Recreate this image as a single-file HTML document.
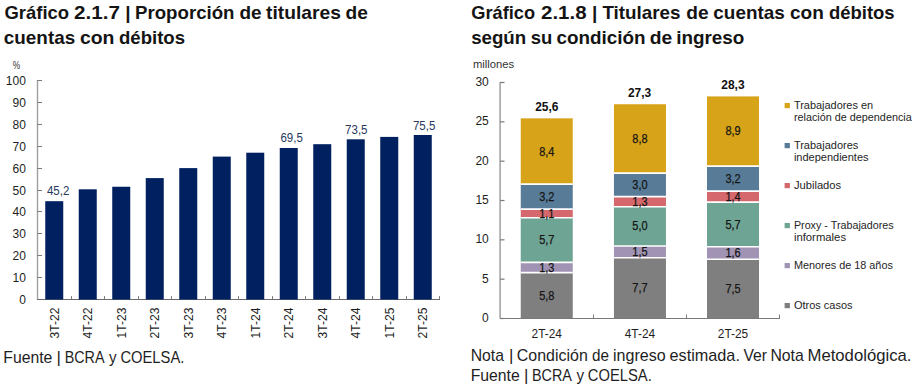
<!DOCTYPE html>
<html><head><meta charset="utf-8"><style>
html,body{margin:0;padding:0;background:#fff;width:918px;height:387px;overflow:hidden}
svg{display:block;font-family:"Liberation Sans", sans-serif}
</style></head><body>
<svg width="918" height="387" viewBox="0 0 918 387">
<text x="4.48" y="18.60" font-size="19" text-anchor="start" font-weight="bold" fill="#141414" textLength="64.63" lengthAdjust="spacingAndGlyphs" >Gráfico</text>
<text x="74.12" y="18.60" font-size="19" text-anchor="start" font-weight="bold" fill="#141414" textLength="45.86" lengthAdjust="spacingAndGlyphs" >2.1.7</text>
<text x="125.22" y="18.60" font-size="19" text-anchor="start" font-weight="bold" fill="#141414" textLength="5.33" lengthAdjust="spacingAndGlyphs" >|</text>
<text x="135.02" y="18.60" font-size="19" text-anchor="start" font-weight="bold" fill="#141414" textLength="99.48" lengthAdjust="spacingAndGlyphs" >Proporción</text>
<text x="239.56" y="18.60" font-size="19" text-anchor="start" font-weight="bold" fill="#141414" textLength="22.13" lengthAdjust="spacingAndGlyphs" >de</text>
<text x="265.98" y="18.60" font-size="19" text-anchor="start" font-weight="bold" fill="#141414" textLength="74.89" lengthAdjust="spacingAndGlyphs" >titulares</text>
<text x="345.45" y="18.60" font-size="19" text-anchor="start" font-weight="bold" fill="#141414" textLength="22.35" lengthAdjust="spacingAndGlyphs" >de</text>
<text x="3.87" y="44.00" font-size="19" text-anchor="start" font-weight="bold" fill="#141414" textLength="71.28" lengthAdjust="spacingAndGlyphs" >cuentas</text>
<text x="79.94" y="44.00" font-size="19" text-anchor="start" font-weight="bold" fill="#141414" textLength="34.55" lengthAdjust="spacingAndGlyphs" >con</text>
<text x="118.97" y="44.00" font-size="19" text-anchor="start" font-weight="bold" fill="#141414" textLength="66.03" lengthAdjust="spacingAndGlyphs" >débitos</text>
<text x="471.29" y="18.60" font-size="19" text-anchor="start" font-weight="bold" fill="#141414" textLength="63.81" lengthAdjust="spacingAndGlyphs" >Gráfico</text>
<text x="541.03" y="18.60" font-size="19" text-anchor="start" font-weight="bold" fill="#141414" textLength="45.54" lengthAdjust="spacingAndGlyphs" >2.1.8</text>
<text x="592.02" y="18.60" font-size="19" text-anchor="start" font-weight="bold" fill="#141414" textLength="5.33" lengthAdjust="spacingAndGlyphs" >|</text>
<text x="602.40" y="18.60" font-size="19" text-anchor="start" font-weight="bold" fill="#141414" textLength="78.09" lengthAdjust="spacingAndGlyphs" >Titulares</text>
<text x="686.35" y="18.60" font-size="19" text-anchor="start" font-weight="bold" fill="#141414" textLength="22.35" lengthAdjust="spacingAndGlyphs" >de</text>
<text x="713.37" y="18.60" font-size="19" text-anchor="start" font-weight="bold" fill="#141414" textLength="71.38" lengthAdjust="spacingAndGlyphs" >cuentas</text>
<text x="789.96" y="18.60" font-size="19" text-anchor="start" font-weight="bold" fill="#141414" textLength="33.82" lengthAdjust="spacingAndGlyphs" >con</text>
<text x="828.98" y="18.60" font-size="19" text-anchor="start" font-weight="bold" fill="#141414" textLength="65.62" lengthAdjust="spacingAndGlyphs" >débitos</text>
<text x="471.14" y="44.00" font-size="19" text-anchor="start" font-weight="bold" fill="#141414" textLength="55.09" lengthAdjust="spacingAndGlyphs" >según</text>
<text x="530.75" y="44.00" font-size="19" text-anchor="start" font-weight="bold" fill="#141414" textLength="21.59" lengthAdjust="spacingAndGlyphs" >su</text>
<text x="556.57" y="44.00" font-size="19" text-anchor="start" font-weight="bold" fill="#141414" textLength="89.0" lengthAdjust="spacingAndGlyphs" >condición</text>
<text x="649.75" y="44.00" font-size="19" text-anchor="start" font-weight="bold" fill="#141414" textLength="22.46" lengthAdjust="spacingAndGlyphs" >de</text>
<text x="676.19" y="44.00" font-size="19" text-anchor="start" font-weight="bold" fill="#141414" textLength="68.11" lengthAdjust="spacingAndGlyphs" >ingreso</text>
<line x1="37.50" y1="80.00" x2="37.50" y2="300.00" stroke="#a0a0a0" stroke-width="1.4"/>
<line x1="37.50" y1="299.50" x2="42.00" y2="299.50" stroke="#7a7a7a" stroke-width="1"/>
<text x="25.90" y="303.50" font-size="12" text-anchor="end" font-weight="normal" fill="#1e1e1e" >0</text>
<line x1="37.50" y1="277.50" x2="42.00" y2="277.50" stroke="#7a7a7a" stroke-width="1"/>
<text x="25.90" y="281.50" font-size="12" text-anchor="end" font-weight="normal" fill="#1e1e1e" >10</text>
<line x1="37.50" y1="255.50" x2="42.00" y2="255.50" stroke="#7a7a7a" stroke-width="1"/>
<text x="25.90" y="259.50" font-size="12" text-anchor="end" font-weight="normal" fill="#1e1e1e" >20</text>
<line x1="37.50" y1="233.50" x2="42.00" y2="233.50" stroke="#7a7a7a" stroke-width="1"/>
<text x="25.90" y="237.50" font-size="12" text-anchor="end" font-weight="normal" fill="#1e1e1e" >30</text>
<line x1="37.50" y1="211.50" x2="42.00" y2="211.50" stroke="#7a7a7a" stroke-width="1"/>
<text x="25.90" y="215.50" font-size="12" text-anchor="end" font-weight="normal" fill="#1e1e1e" >40</text>
<line x1="37.50" y1="190.50" x2="42.00" y2="190.50" stroke="#7a7a7a" stroke-width="1"/>
<text x="25.90" y="194.50" font-size="12" text-anchor="end" font-weight="normal" fill="#1e1e1e" >50</text>
<line x1="37.50" y1="168.50" x2="42.00" y2="168.50" stroke="#7a7a7a" stroke-width="1"/>
<text x="25.90" y="172.50" font-size="12" text-anchor="end" font-weight="normal" fill="#1e1e1e" >60</text>
<line x1="37.50" y1="146.50" x2="42.00" y2="146.50" stroke="#7a7a7a" stroke-width="1"/>
<text x="25.90" y="150.50" font-size="12" text-anchor="end" font-weight="normal" fill="#1e1e1e" >70</text>
<line x1="37.50" y1="124.50" x2="42.00" y2="124.50" stroke="#7a7a7a" stroke-width="1"/>
<text x="25.90" y="128.50" font-size="12" text-anchor="end" font-weight="normal" fill="#1e1e1e" >80</text>
<line x1="37.50" y1="102.50" x2="42.00" y2="102.50" stroke="#7a7a7a" stroke-width="1"/>
<text x="25.90" y="106.50" font-size="12" text-anchor="end" font-weight="normal" fill="#1e1e1e" >90</text>
<line x1="37.50" y1="80.50" x2="42.00" y2="80.50" stroke="#7a7a7a" stroke-width="1"/>
<text x="25.90" y="84.50" font-size="12" text-anchor="end" font-weight="normal" fill="#1e1e1e" >100</text>
<text x="12.80" y="69.00" font-size="10.5" text-anchor="start" font-weight="normal" fill="#333" textLength="7.4" lengthAdjust="spacingAndGlyphs" >%</text>
<line x1="37.50" y1="299.50" x2="440.00" y2="299.50" stroke="#6a6a6a" stroke-width="1"/>
<line x1="71.50" y1="296.10" x2="71.50" y2="299.50" stroke="#7a7a7a" stroke-width="1"/>
<line x1="104.50" y1="296.10" x2="104.50" y2="299.50" stroke="#7a7a7a" stroke-width="1"/>
<line x1="138.50" y1="296.10" x2="138.50" y2="299.50" stroke="#7a7a7a" stroke-width="1"/>
<line x1="171.50" y1="296.10" x2="171.50" y2="299.50" stroke="#7a7a7a" stroke-width="1"/>
<line x1="205.50" y1="296.10" x2="205.50" y2="299.50" stroke="#7a7a7a" stroke-width="1"/>
<line x1="238.50" y1="296.10" x2="238.50" y2="299.50" stroke="#7a7a7a" stroke-width="1"/>
<line x1="272.50" y1="296.10" x2="272.50" y2="299.50" stroke="#7a7a7a" stroke-width="1"/>
<line x1="305.50" y1="296.10" x2="305.50" y2="299.50" stroke="#7a7a7a" stroke-width="1"/>
<line x1="339.50" y1="296.10" x2="339.50" y2="299.50" stroke="#7a7a7a" stroke-width="1"/>
<line x1="372.50" y1="296.10" x2="372.50" y2="299.50" stroke="#7a7a7a" stroke-width="1"/>
<line x1="406.50" y1="296.10" x2="406.50" y2="299.50" stroke="#7a7a7a" stroke-width="1"/>
<line x1="439.50" y1="296.10" x2="439.50" y2="299.50" stroke="#7a7a7a" stroke-width="1"/>
<rect x="45.25" y="201.20" width="18" height="98.30" fill="#002060"/>
<text x="0" y="0" font-size="12" text-anchor="end" fill="#1e1e1e" textLength="30.8" lengthAdjust="spacingAndGlyphs" transform="translate(58.55,307.6) rotate(-90)">3T-22</text>
<rect x="78.75" y="189.30" width="18" height="110.20" fill="#002060"/>
<text x="0" y="0" font-size="12" text-anchor="end" fill="#1e1e1e" textLength="30.8" lengthAdjust="spacingAndGlyphs" transform="translate(92.05,307.6) rotate(-90)">4T-22</text>
<rect x="112.25" y="186.75" width="18" height="112.75" fill="#002060"/>
<text x="0" y="0" font-size="12" text-anchor="end" fill="#1e1e1e" textLength="30.8" lengthAdjust="spacingAndGlyphs" transform="translate(125.55,307.6) rotate(-90)">1T-23</text>
<rect x="145.75" y="178.10" width="18" height="121.40" fill="#002060"/>
<text x="0" y="0" font-size="12" text-anchor="end" fill="#1e1e1e" textLength="30.8" lengthAdjust="spacingAndGlyphs" transform="translate(159.05,307.6) rotate(-90)">2T-23</text>
<rect x="179.25" y="168.10" width="18" height="131.40" fill="#002060"/>
<text x="0" y="0" font-size="12" text-anchor="end" fill="#1e1e1e" textLength="30.8" lengthAdjust="spacingAndGlyphs" transform="translate(192.55,307.6) rotate(-90)">3T-23</text>
<rect x="212.75" y="156.60" width="18" height="142.90" fill="#002060"/>
<text x="0" y="0" font-size="12" text-anchor="end" fill="#1e1e1e" textLength="30.8" lengthAdjust="spacingAndGlyphs" transform="translate(226.05,307.6) rotate(-90)">4T-23</text>
<rect x="246.25" y="152.70" width="18" height="146.80" fill="#002060"/>
<text x="0" y="0" font-size="12" text-anchor="end" fill="#1e1e1e" textLength="30.8" lengthAdjust="spacingAndGlyphs" transform="translate(259.55,307.6) rotate(-90)">1T-24</text>
<rect x="279.75" y="148.00" width="18" height="151.50" fill="#002060"/>
<text x="0" y="0" font-size="12" text-anchor="end" fill="#1e1e1e" textLength="30.8" lengthAdjust="spacingAndGlyphs" transform="translate(293.05,307.6) rotate(-90)">2T-24</text>
<rect x="313.25" y="144.20" width="18" height="155.30" fill="#002060"/>
<text x="0" y="0" font-size="12" text-anchor="end" fill="#1e1e1e" textLength="30.8" lengthAdjust="spacingAndGlyphs" transform="translate(326.55,307.6) rotate(-90)">3T-24</text>
<rect x="346.75" y="139.30" width="18" height="160.20" fill="#002060"/>
<text x="0" y="0" font-size="12" text-anchor="end" fill="#1e1e1e" textLength="30.8" lengthAdjust="spacingAndGlyphs" transform="translate(360.05,307.6) rotate(-90)">4T-24</text>
<rect x="380.25" y="136.90" width="18" height="162.60" fill="#002060"/>
<text x="0" y="0" font-size="12" text-anchor="end" fill="#1e1e1e" textLength="30.8" lengthAdjust="spacingAndGlyphs" transform="translate(393.55,307.6) rotate(-90)">1T-25</text>
<rect x="413.75" y="135.00" width="18" height="164.50" fill="#002060"/>
<text x="0" y="0" font-size="12" text-anchor="end" fill="#1e1e1e" textLength="30.8" lengthAdjust="spacingAndGlyphs" transform="translate(427.05,307.6) rotate(-90)">2T-25</text>
<text x="58.10" y="195.20" font-size="12" text-anchor="middle" font-weight="normal" fill="#27385e" textLength="22.4" lengthAdjust="spacingAndGlyphs" >45,2</text>
<text x="291.60" y="142.30" font-size="12" text-anchor="middle" font-weight="normal" fill="#27385e" textLength="22.4" lengthAdjust="spacingAndGlyphs" >69,5</text>
<text x="356.30" y="133.80" font-size="12" text-anchor="middle" font-weight="normal" fill="#27385e" textLength="22.4" lengthAdjust="spacingAndGlyphs" >73,5</text>
<text x="424.15" y="129.80" font-size="12" text-anchor="middle" font-weight="normal" fill="#27385e" textLength="22.4" lengthAdjust="spacingAndGlyphs" >75,5</text>
<text x="3.27" y="362.70" font-size="17" text-anchor="start" font-weight="normal" fill="#1e1e1e" textLength="49.09" lengthAdjust="spacingAndGlyphs" >Fuente</text>
<text x="56.49" y="362.70" font-size="17" text-anchor="start" font-weight="normal" fill="#1e1e1e" textLength="4.42" lengthAdjust="spacingAndGlyphs" >|</text>
<text x="64.64" y="362.70" font-size="17" text-anchor="start" font-weight="normal" fill="#1e1e1e" textLength="39.92" lengthAdjust="spacingAndGlyphs" >BCRA</text>
<text x="109.08" y="362.70" font-size="17" text-anchor="start" font-weight="normal" fill="#1e1e1e" textLength="7.58" lengthAdjust="spacingAndGlyphs" >y</text>
<text x="120.39" y="362.70" font-size="17" text-anchor="start" font-weight="normal" fill="#1e1e1e" textLength="64.0" lengthAdjust="spacingAndGlyphs" >COELSA.</text>
<line x1="500.10" y1="82.00" x2="500.10" y2="318.50" stroke="#a4a4a4" stroke-width="1.6"/>
<line x1="500.10" y1="318.50" x2="504.50" y2="318.50" stroke="#7a7a7a" stroke-width="1.2"/>
<text x="488.80" y="322.10" font-size="12" text-anchor="end" font-weight="normal" fill="#1e1e1e" >0</text>
<line x1="500.10" y1="279.17" x2="504.50" y2="279.17" stroke="#7a7a7a" stroke-width="1.2"/>
<text x="488.80" y="282.77" font-size="12" text-anchor="end" font-weight="normal" fill="#1e1e1e" >5</text>
<line x1="500.10" y1="239.83" x2="504.50" y2="239.83" stroke="#7a7a7a" stroke-width="1.2"/>
<text x="488.80" y="243.43" font-size="12" text-anchor="end" font-weight="normal" fill="#1e1e1e" >10</text>
<line x1="500.10" y1="200.50" x2="504.50" y2="200.50" stroke="#7a7a7a" stroke-width="1.2"/>
<text x="488.80" y="204.10" font-size="12" text-anchor="end" font-weight="normal" fill="#1e1e1e" >15</text>
<line x1="500.10" y1="161.17" x2="504.50" y2="161.17" stroke="#7a7a7a" stroke-width="1.2"/>
<text x="488.80" y="164.77" font-size="12" text-anchor="end" font-weight="normal" fill="#1e1e1e" >20</text>
<line x1="500.10" y1="121.83" x2="504.50" y2="121.83" stroke="#7a7a7a" stroke-width="1.2"/>
<text x="488.80" y="125.43" font-size="12" text-anchor="end" font-weight="normal" fill="#1e1e1e" >25</text>
<line x1="500.10" y1="82.50" x2="504.50" y2="82.50" stroke="#7a7a7a" stroke-width="1.2"/>
<text x="488.80" y="86.10" font-size="12" text-anchor="end" font-weight="normal" fill="#1e1e1e" >30</text>
<text x="472.90" y="67.80" font-size="10.5" text-anchor="start" font-weight="normal" fill="#333" textLength="41.2" lengthAdjust="spacingAndGlyphs" >millones</text>
<line x1="500.00" y1="318.50" x2="780.00" y2="318.50" stroke="#7a7a7a" stroke-width="1"/>
<line x1="593.50" y1="314.50" x2="593.50" y2="318.50" stroke="#7a7a7a" stroke-width="1"/>
<line x1="686.50" y1="314.50" x2="686.50" y2="318.50" stroke="#7a7a7a" stroke-width="1"/>
<line x1="779.50" y1="314.50" x2="779.50" y2="318.50" stroke="#7a7a7a" stroke-width="1"/>
<rect x="520.75" y="272.59" width="52" height="45.41" fill="#7f7f7f"/>
<rect x="520.75" y="262.41" width="52" height="10.18" fill="#a093b4"/>
<rect x="520.75" y="217.78" width="52" height="44.63" fill="#6ea493"/>
<rect x="520.75" y="209.16" width="52" height="8.61" fill="#d4686c"/>
<rect x="520.75" y="184.11" width="52" height="25.06" fill="#587c98"/>
<rect x="520.75" y="118.34" width="52" height="65.77" fill="#d7a318"/>
<line x1="520.75" y1="272.59" x2="572.75" y2="272.59" stroke="#fff" stroke-width="1.6"/>
<line x1="520.75" y1="262.41" x2="572.75" y2="262.41" stroke="#fff" stroke-width="1.6"/>
<line x1="520.75" y1="217.78" x2="572.75" y2="217.78" stroke="#fff" stroke-width="1.6"/>
<line x1="520.75" y1="209.16" x2="572.75" y2="209.16" stroke="#fff" stroke-width="1.6"/>
<line x1="520.75" y1="184.11" x2="572.75" y2="184.11" stroke="#fff" stroke-width="1.6"/>
<text x="546.75" y="300.29" font-size="12" text-anchor="middle" font-weight="normal" fill="#151515" textLength="15.2" lengthAdjust="spacingAndGlyphs" stroke="#151515" stroke-width="0.25">5,8</text>
<text x="546.75" y="271.70" font-size="12" text-anchor="middle" font-weight="normal" fill="#151515" textLength="15.2" lengthAdjust="spacingAndGlyphs" stroke="#151515" stroke-width="0.25">1,3</text>
<text x="546.75" y="244.29" font-size="12" text-anchor="middle" font-weight="normal" fill="#151515" textLength="15.2" lengthAdjust="spacingAndGlyphs" stroke="#151515" stroke-width="0.25">5,7</text>
<text x="546.75" y="217.67" font-size="12" text-anchor="middle" font-weight="normal" fill="#151515" textLength="15.2" lengthAdjust="spacingAndGlyphs" stroke="#151515" stroke-width="0.25">1,1</text>
<text x="546.75" y="200.83" font-size="12" text-anchor="middle" font-weight="normal" fill="#151515" textLength="15.2" lengthAdjust="spacingAndGlyphs" stroke="#151515" stroke-width="0.25">3,2</text>
<text x="546.75" y="156.22" font-size="12" text-anchor="middle" font-weight="normal" fill="#151515" textLength="15.2" lengthAdjust="spacingAndGlyphs" stroke="#151515" stroke-width="0.25">8,4</text>
<text x="546.85" y="111.04" font-size="12.5" text-anchor="middle" font-weight="bold" fill="#111" textLength="23.3" lengthAdjust="spacingAndGlyphs" >25,6</text>
<text x="546.75" y="337.90" font-size="12" text-anchor="middle" font-weight="normal" fill="#1e1e1e" textLength="30.4" lengthAdjust="spacingAndGlyphs" >2T-24</text>
<rect x="613.95" y="257.71" width="52" height="60.29" fill="#7f7f7f"/>
<rect x="613.95" y="245.96" width="52" height="11.75" fill="#a093b4"/>
<rect x="613.95" y="206.81" width="52" height="39.15" fill="#6ea493"/>
<rect x="613.95" y="196.63" width="52" height="10.18" fill="#d4686c"/>
<rect x="613.95" y="173.15" width="52" height="23.49" fill="#587c98"/>
<rect x="613.95" y="104.24" width="52" height="68.90" fill="#d7a318"/>
<line x1="613.95" y1="257.71" x2="665.95" y2="257.71" stroke="#fff" stroke-width="1.6"/>
<line x1="613.95" y1="245.96" x2="665.95" y2="245.96" stroke="#fff" stroke-width="1.6"/>
<line x1="613.95" y1="206.81" x2="665.95" y2="206.81" stroke="#fff" stroke-width="1.6"/>
<line x1="613.95" y1="196.63" x2="665.95" y2="196.63" stroke="#fff" stroke-width="1.6"/>
<line x1="613.95" y1="173.15" x2="665.95" y2="173.15" stroke="#fff" stroke-width="1.6"/>
<text x="639.95" y="292.05" font-size="12" text-anchor="middle" font-weight="normal" fill="#151515" textLength="15.2" lengthAdjust="spacingAndGlyphs" stroke="#151515" stroke-width="0.25">7,7</text>
<text x="639.95" y="256.04" font-size="12" text-anchor="middle" font-weight="normal" fill="#151515" textLength="15.2" lengthAdjust="spacingAndGlyphs" stroke="#151515" stroke-width="0.25">1,5</text>
<text x="639.95" y="229.59" font-size="12" text-anchor="middle" font-weight="normal" fill="#151515" textLength="15.2" lengthAdjust="spacingAndGlyphs" stroke="#151515" stroke-width="0.25">5,0</text>
<text x="639.95" y="205.92" font-size="12" text-anchor="middle" font-weight="normal" fill="#151515" textLength="15.2" lengthAdjust="spacingAndGlyphs" stroke="#151515" stroke-width="0.25">1,3</text>
<text x="639.95" y="189.09" font-size="12" text-anchor="middle" font-weight="normal" fill="#151515" textLength="15.2" lengthAdjust="spacingAndGlyphs" stroke="#151515" stroke-width="0.25">3,0</text>
<text x="639.95" y="142.89" font-size="12" text-anchor="middle" font-weight="normal" fill="#151515" textLength="15.2" lengthAdjust="spacingAndGlyphs" stroke="#151515" stroke-width="0.25">8,8</text>
<text x="639.55" y="96.94" font-size="12.5" text-anchor="middle" font-weight="bold" fill="#111" textLength="23.3" lengthAdjust="spacingAndGlyphs" >27,3</text>
<text x="639.95" y="337.90" font-size="12" text-anchor="middle" font-weight="normal" fill="#1e1e1e" textLength="30.4" lengthAdjust="spacingAndGlyphs" >4T-24</text>
<rect x="707.00" y="259.27" width="52" height="58.73" fill="#7f7f7f"/>
<rect x="707.00" y="246.75" width="52" height="12.53" fill="#a093b4"/>
<rect x="707.00" y="202.12" width="52" height="44.63" fill="#6ea493"/>
<rect x="707.00" y="191.15" width="52" height="10.96" fill="#d4686c"/>
<rect x="707.00" y="166.10" width="52" height="25.06" fill="#587c98"/>
<rect x="707.00" y="96.41" width="52" height="69.69" fill="#d7a318"/>
<line x1="707.00" y1="259.27" x2="759.00" y2="259.27" stroke="#fff" stroke-width="1.6"/>
<line x1="707.00" y1="246.75" x2="759.00" y2="246.75" stroke="#fff" stroke-width="1.6"/>
<line x1="707.00" y1="202.12" x2="759.00" y2="202.12" stroke="#fff" stroke-width="1.6"/>
<line x1="707.00" y1="191.15" x2="759.00" y2="191.15" stroke="#fff" stroke-width="1.6"/>
<line x1="707.00" y1="166.10" x2="759.00" y2="166.10" stroke="#fff" stroke-width="1.6"/>
<text x="733.00" y="292.84" font-size="12" text-anchor="middle" font-weight="normal" fill="#151515" textLength="15.2" lengthAdjust="spacingAndGlyphs" stroke="#151515" stroke-width="0.25">7,5</text>
<text x="733.00" y="257.21" font-size="12" text-anchor="middle" font-weight="normal" fill="#151515" textLength="15.2" lengthAdjust="spacingAndGlyphs" stroke="#151515" stroke-width="0.25">1,6</text>
<text x="733.00" y="228.63" font-size="12" text-anchor="middle" font-weight="normal" fill="#151515" textLength="15.2" lengthAdjust="spacingAndGlyphs" stroke="#151515" stroke-width="0.25">5,7</text>
<text x="733.00" y="200.83" font-size="12" text-anchor="middle" font-weight="normal" fill="#151515" textLength="15.2" lengthAdjust="spacingAndGlyphs" stroke="#151515" stroke-width="0.25">1,4</text>
<text x="733.00" y="182.83" font-size="12" text-anchor="middle" font-weight="normal" fill="#151515" textLength="15.2" lengthAdjust="spacingAndGlyphs" stroke="#151515" stroke-width="0.25">3,2</text>
<text x="733.00" y="135.45" font-size="12" text-anchor="middle" font-weight="normal" fill="#151515" textLength="15.2" lengthAdjust="spacingAndGlyphs" stroke="#151515" stroke-width="0.25">8,9</text>
<text x="732.95" y="89.11" font-size="12.5" text-anchor="middle" font-weight="bold" fill="#111" textLength="23.3" lengthAdjust="spacingAndGlyphs" >28,3</text>
<text x="733.00" y="337.90" font-size="12" text-anchor="middle" font-weight="normal" fill="#1e1e1e" textLength="30.4" lengthAdjust="spacingAndGlyphs" >2T-25</text>
<rect x="784.6" y="103" width="5.3" height="5.2" fill="#d7a318"/>
<text x="793.90" y="108.80" font-size="11" text-anchor="start" font-weight="normal" fill="#1e1e1e" textLength="79.22" lengthAdjust="spacingAndGlyphs" >Trabajadores en</text>
<text x="793.90" y="121.40" font-size="11" text-anchor="start" font-weight="normal" fill="#1e1e1e" textLength="117.84" lengthAdjust="spacingAndGlyphs" >relación de dependencia</text>
<rect x="784.6" y="143" width="5.3" height="5.2" fill="#587c98"/>
<text x="793.90" y="148.80" font-size="11" text-anchor="start" font-weight="normal" fill="#1e1e1e" textLength="64.41" lengthAdjust="spacingAndGlyphs" >Trabajadores</text>
<text x="793.90" y="161.40" font-size="11" text-anchor="start" font-weight="normal" fill="#1e1e1e" textLength="74.62" lengthAdjust="spacingAndGlyphs" >independientes</text>
<rect x="784.6" y="183" width="5.3" height="5.2" fill="#d4686c"/>
<text x="793.90" y="188.80" font-size="11" text-anchor="start" font-weight="normal" fill="#1e1e1e" textLength="47.27" lengthAdjust="spacingAndGlyphs" >Jubilados</text>
<rect x="784.6" y="223" width="5.3" height="5.2" fill="#6ea493"/>
<text x="793.90" y="228.80" font-size="11" text-anchor="start" font-weight="normal" fill="#1e1e1e" textLength="99.76" lengthAdjust="spacingAndGlyphs" >Proxy - Trabajadores</text>
<text x="793.90" y="241.40" font-size="11" text-anchor="start" font-weight="normal" fill="#1e1e1e" textLength="52.17" lengthAdjust="spacingAndGlyphs" >informales</text>
<rect x="784.6" y="263" width="5.3" height="5.2" fill="#a093b4"/>
<text x="793.90" y="268.80" font-size="11" text-anchor="start" font-weight="normal" fill="#1e1e1e" textLength="98.99" lengthAdjust="spacingAndGlyphs" >Menores de 18 años</text>
<rect x="784.6" y="303" width="5.3" height="5.2" fill="#7f7f7f"/>
<text x="793.90" y="308.80" font-size="11" text-anchor="start" font-weight="normal" fill="#1e1e1e" textLength="58.69" lengthAdjust="spacingAndGlyphs" >Otros casos</text>
<text x="470.72" y="360.70" font-size="17" text-anchor="start" font-weight="normal" fill="#1e1e1e" textLength="33.29" lengthAdjust="spacingAndGlyphs" >Nota</text>
<text x="508.89" y="360.70" font-size="17" text-anchor="start" font-weight="normal" fill="#1e1e1e" textLength="4.42" lengthAdjust="spacingAndGlyphs" >|</text>
<text x="516.84" y="360.70" font-size="17" text-anchor="start" font-weight="normal" fill="#1e1e1e" textLength="70.98" lengthAdjust="spacingAndGlyphs" >Condición</text>
<text x="592.06" y="360.70" font-size="17" text-anchor="start" font-weight="normal" fill="#1e1e1e" textLength="16.98" lengthAdjust="spacingAndGlyphs" >de</text>
<text x="613.03" y="360.70" font-size="17" text-anchor="start" font-weight="normal" fill="#1e1e1e" textLength="52.64" lengthAdjust="spacingAndGlyphs" >ingreso</text>
<text x="669.53" y="360.70" font-size="17" text-anchor="start" font-weight="normal" fill="#1e1e1e" textLength="70.39" lengthAdjust="spacingAndGlyphs" >estimada.</text>
<text x="743.44" y="360.70" font-size="17" text-anchor="start" font-weight="normal" fill="#1e1e1e" textLength="23.58" lengthAdjust="spacingAndGlyphs" >Ver</text>
<text x="770.42" y="360.70" font-size="17" text-anchor="start" font-weight="normal" fill="#1e1e1e" textLength="33.39" lengthAdjust="spacingAndGlyphs" >Nota</text>
<text x="807.55" y="360.70" font-size="17" text-anchor="start" font-weight="normal" fill="#1e1e1e" textLength="103.84" lengthAdjust="spacingAndGlyphs" >Metodológica.</text>
<text x="470.67" y="380.50" font-size="17" text-anchor="start" font-weight="normal" fill="#1e1e1e" textLength="49.09" lengthAdjust="spacingAndGlyphs" >Fuente</text>
<text x="523.89" y="380.50" font-size="17" text-anchor="start" font-weight="normal" fill="#1e1e1e" textLength="4.42" lengthAdjust="spacingAndGlyphs" >|</text>
<text x="532.04" y="380.50" font-size="17" text-anchor="start" font-weight="normal" fill="#1e1e1e" textLength="39.92" lengthAdjust="spacingAndGlyphs" >BCRA</text>
<text x="576.48" y="380.50" font-size="17" text-anchor="start" font-weight="normal" fill="#1e1e1e" textLength="7.58" lengthAdjust="spacingAndGlyphs" >y</text>
<text x="587.79" y="380.50" font-size="17" text-anchor="start" font-weight="normal" fill="#1e1e1e" textLength="64.0" lengthAdjust="spacingAndGlyphs" >COELSA.</text>
</svg>
</body></html>
